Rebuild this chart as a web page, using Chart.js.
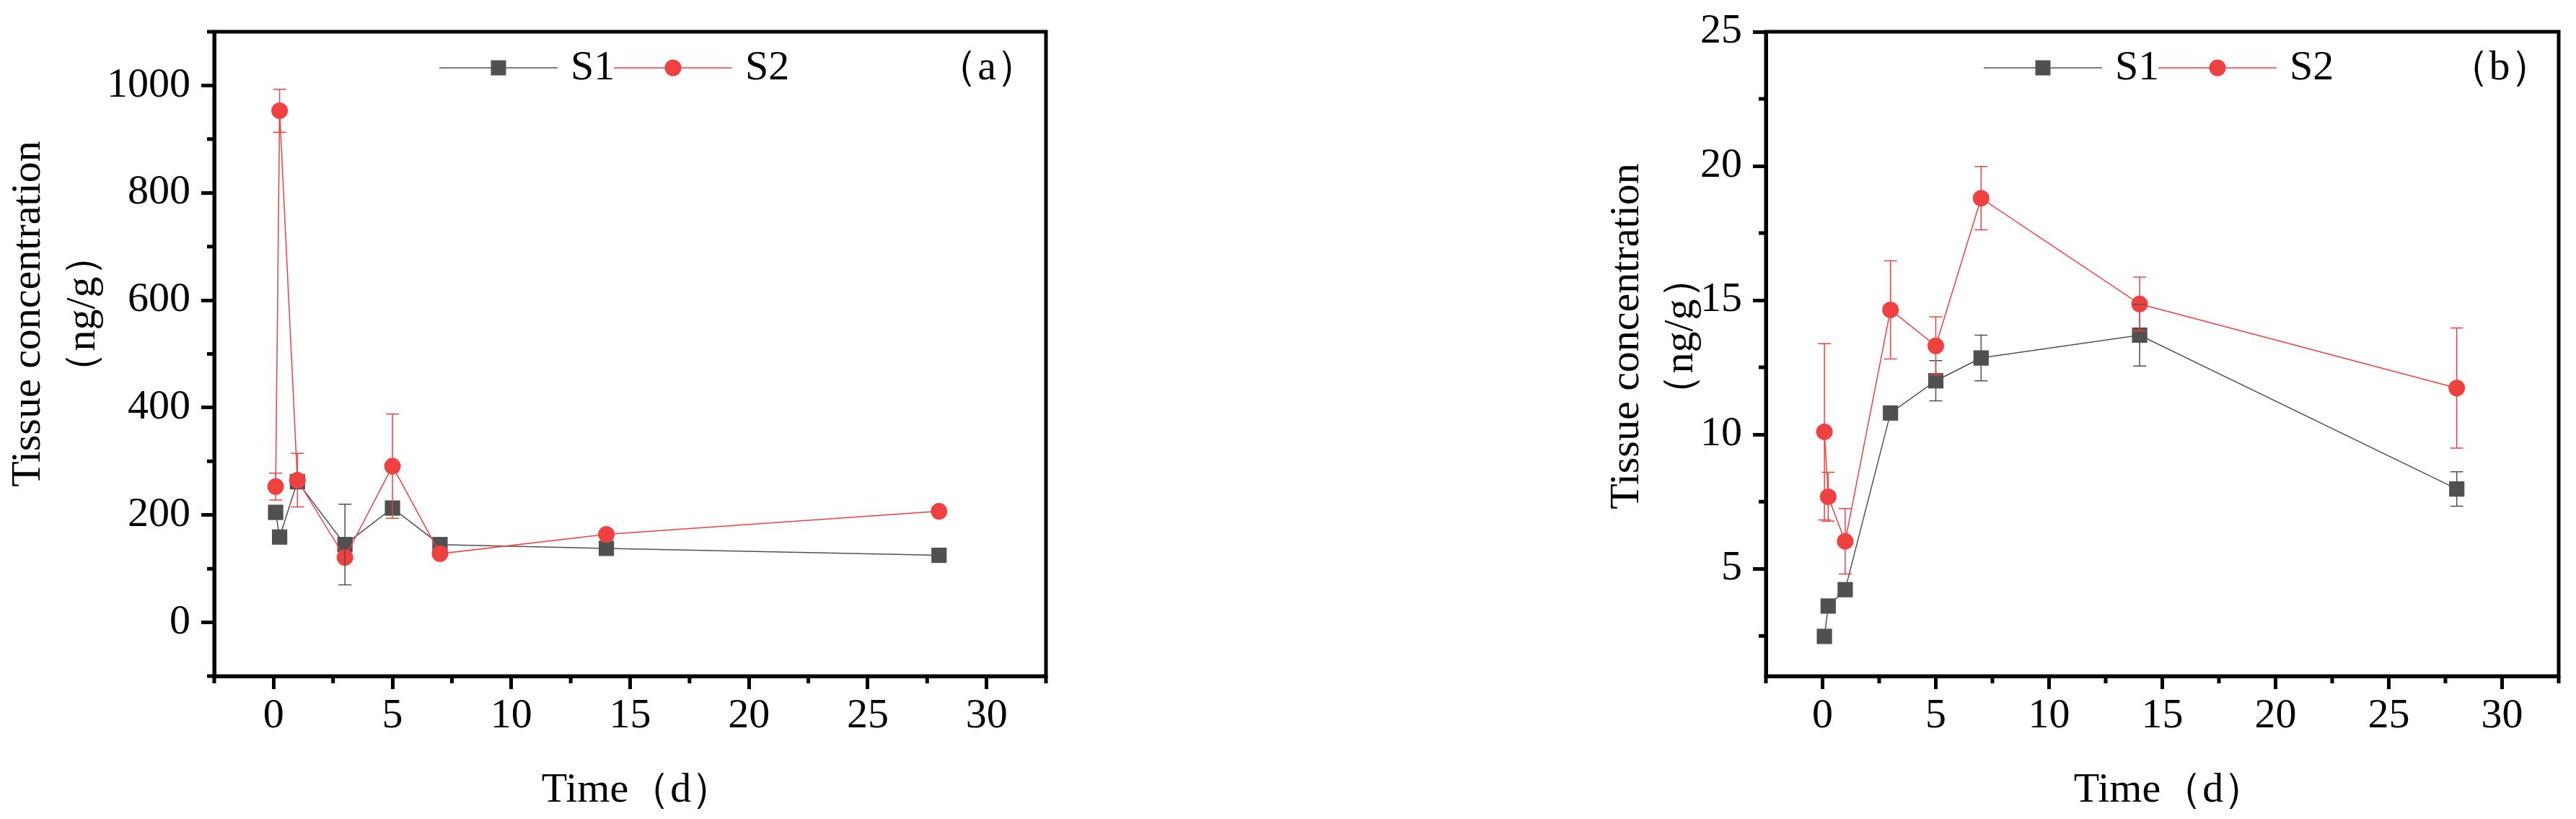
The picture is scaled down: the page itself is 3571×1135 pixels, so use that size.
<!DOCTYPE html>
<html>
<head>
<meta charset="utf-8">
<script src="https://cdn.jsdelivr.net/npm/chart.js"></script>
<style>
html, body { margin: 0; padding: 0; background: #fff; }
body { width: 3571px; height: 1135px; position: relative; overflow: hidden; }
.panel { position: absolute; top: 0; height: 1135px; }
#wrapA { left: 0; width: 1500px; }
#wrapB { left: 2150px; width: 1421px; }
</style>
</head>
<body>
<div class="panel" id="wrapA"><canvas id="chartA"></canvas></div>
<div class="panel" id="wrapB"><canvas id="chartB"></canvas></div>
<script>
// sampling times (d)
var times = [0.083, 0.25, 1, 3, 5, 7, 14, 28];
var xTicks = [0, 5, 10, 15, 20, 25, 30];
var seriesNames = ['S1', 'S2'];
var colors = ['#505050', '#f04141'];

// panel (a)
var s1A = [205, 159, 262, 145, 213, 145, 138, 125];
var s1AErr = [0, 0, 0, 75, 0, 0, 0, 0];
var s2A = [253, 953, 265, 121, 291, 128, 164, 207];
var s2AErr = [25, 40, 50, 0, 97, 0, 0, 0];
var yTicksA = [0, 200, 400, 600, 800, 1000];

// panel (b)
var s1B = [2.48, 3.61, 4.22, 10.8, 12.0, 12.85, 13.7, 7.97];
var s1BErr = [0, 0, 0, 0, 0.75, 0.85, 1.15, 0.64];
var s2B = [10.1, 7.68, 6.02, 14.64, 13.3, 18.8, 14.86, 11.73];
var s2BErr = [3.28, 0.91, 1.22, 1.83, 1.08, 1.18, 1.0, 2.24];
var yTicksB = [5, 10, 15, 20, 25];

var fontFam = '"Liberation Serif", "Times New Roman", serif';

function makeSets(y1, e1, y2, e2) {
    return [{
        label: seriesNames[0],
        data: times.map(function(t, i){ return {x: t, y: y1[i]}; }),
        err: e1,
        order: 2,
        borderColor: colors[0],
        backgroundColor: colors[0],
        borderWidth: 1.5,
        pointStyle: 'rect',
        pointRadius: 15,
        pointBorderWidth: 0,
        pointBackgroundColor: colors[0],
        tension: 0
    }, {
        label: seriesNames[1],
        data: times.map(function(t, i){ return {x: t, y: y2[i]}; }),
        err: e2,
        order: 1,
        borderColor: colors[1],
        backgroundColor: colors[1],
        borderWidth: 1.5,
        pointStyle: 'circle',
        pointRadius: 11.5,
        pointBorderWidth: 0,
        pointBackgroundColor: colors[1],
        tension: 0
    }];
}

function drawMarker(ctx, k, x, y) {
    ctx.fillStyle = colors[k];
    if (k === 0) {
        ctx.fillRect(x - 10.5, y - 10.5, 21, 21);
    } else {
        ctx.beginPath();
        ctx.arc(x, y, 11.5, 0, Math.PI * 2);
        ctx.fill();
    }
}

function panelPlugin(cfg) {
    return {
        id: 'panelDeco',
        afterDatasetsDraw: function(chart) {
            var ctx = chart.ctx, xs = chart.scales.x, ys = chart.scales.y;
            chart.data.datasets.forEach(function(ds){
                ctx.save();
                ctx.strokeStyle = ds.borderColor;
                ctx.lineWidth = 1.5;
                ds.data.forEach(function(p, i){
                    var e = ds.err[i];
                    if (!e) return;
                    var px = xs.getPixelForValue(p.x);
                    var top = ys.getPixelForValue(p.y + e);
                    var bot = ys.getPixelForValue(p.y - e);
                    ctx.beginPath();
                    ctx.moveTo(px, top); ctx.lineTo(px, bot);
                    ctx.moveTo(px - 9, top); ctx.lineTo(px + 9, top);
                    ctx.moveTo(px - 9, bot); ctx.lineTo(px + 9, bot);
                    ctx.stroke();
                });
                ctx.restore();
            });
        },
        afterDraw: function(chart) {
            var ctx = chart.ctx, a = chart.chartArea;
            var xs = chart.scales.x, ys = chart.scales.y;
            ctx.save();
            // frame
            ctx.strokeStyle = '#000';
            ctx.lineWidth = 5;
            ctx.strokeRect(a.left, a.top, a.right - a.left, a.bottom - a.top);
            // minor ticks
            ctx.beginPath();
            cfg.minorX.forEach(function(v){
                var px = xs.getPixelForValue(v);
                ctx.moveTo(px, a.bottom); ctx.lineTo(px, a.bottom + 10);
            });
            cfg.minorY.forEach(function(v){
                var py = ys.getPixelForValue(v);
                ctx.moveTo(a.left, py); ctx.lineTo(a.left - 10, py);
            });
            ctx.stroke();

            // legend
            var ly = a.top + 50;
            ctx.font = '58px ' + fontFam;
            ctx.textBaseline = 'middle';
            ctx.textAlign = 'left';
            seriesNames.forEach(function(name, k){
                var x0 = a.left + cfg.legendX + k * 242;
                ctx.strokeStyle = colors[k];
                ctx.lineWidth = 1.5;
                ctx.beginPath();
                ctx.moveTo(x0, ly); ctx.lineTo(x0 + 164, ly);
                ctx.stroke();
                drawMarker(ctx, k, x0 + 82, ly);
                ctx.fillStyle = '#000';
                ctx.fillText(name, x0 + 182, ly + 1);
            });

            // panel letter
            ctx.textAlign = 'center';
            ctx.fillText(cfg.letter, a.right - 82, ly + 1);

            // x title
            ctx.fillText('Time（d）', (a.left + a.right) / 2 + 10, 1096);

            // y title
            ctx.save();
            ctx.translate(cfg.yTitleX[0], cfg.yTitleY);
            ctx.rotate(-Math.PI / 2);
            ctx.fillText('Tissue concentration', 0, 0);
            ctx.restore();
            ctx.save();
            ctx.translate(cfg.yTitleX[1], cfg.yTitleY);
            ctx.rotate(-Math.PI / 2);
            ctx.fillText('（ng/g）', 0, 0);
            ctx.restore();

            ctx.restore();
        }
    };
}

function makeChart(id, datasets, yMin, yMax, yTicks, yWidth, rightPad, cfg) {
    return new Chart(document.getElementById(id).getContext('2d'), {
        type: 'line',
        data: { datasets: datasets },
        options: {
            responsive: true,
            maintainAspectRatio: false,
            animation: false,
            layout: { padding: { top: 36, right: rightPad, left: 0, bottom: 0 } },
            plugins: { legend: { display: false }, tooltip: { enabled: false } },
            scales: {
                x: {
                    type: 'linear', min: -2.5, max: 32.5,
                    afterBuildTicks: function(s){ s.ticks = xTicks.map(function(v){ return {value: v}; }); },
                    afterFit: function(s){ s.height = 198; },
                    ticks: { autoSkip: false, maxRotation: 0, padding: 9, color: '#000',
                             font: { family: fontFam, size: 58, lineHeight: 1 },
                             callback: function(v){ return String(v); } },
                    grid: { drawOnChartArea: false, drawTicks: true, tickLength: 18, tickWidth: 5, tickColor: '#000' },
                    border: { display: true, width: 5, color: '#000' }
                },
                y: {
                    type: 'linear', min: yMin, max: yMax,
                    afterBuildTicks: function(s){ s.ticks = yTicks.map(function(v){ return {value: v}; }); },
                    afterFit: function(s){ s.width = yWidth; },
                    ticks: { autoSkip: false, padding: 15, color: '#000',
                             font: { family: fontFam, size: 58, lineHeight: 1 },
                             callback: function(v){ return String(v); } },
                    grid: { drawOnChartArea: false, drawTicks: true, tickLength: 18, tickWidth: 5, tickColor: '#000' },
                    border: { display: true, width: 5, color: '#000' }
                }
            }
        },
        plugins: [panelPlugin(cfg)]
    });
}

var chartA = makeChart('chartA', makeSets(s1A, s1AErr, s2A, s2AErr), -100, 1100, yTicksA, 297, 50, {
    letter: '（a）',
    legendX: 312,
    yTitleX: [40, 116],
    yTitleY: 435,
    minorX: xTicks.map(function(v){ return v - 2.5; }).concat([32.5]),
    minorY: yTicksA.map(function(v){ return v - 100; }).concat([1100])
});

var chartB = makeChart('chartB', makeSets(s1B, s1BErr, s2B, s2BErr), 1, 25, yTicksB, 298, 24, {
    letter: '（b）',
    legendX: 302,
    yTitleX: [106, 181],
    yTitleY: 466,
    minorX: xTicks.map(function(v){ return v - 2.5; }).concat([32.5]),
    minorY: yTicksB.map(function(v){ return v - 2.5; })
});
</script>
</body>
</html>
